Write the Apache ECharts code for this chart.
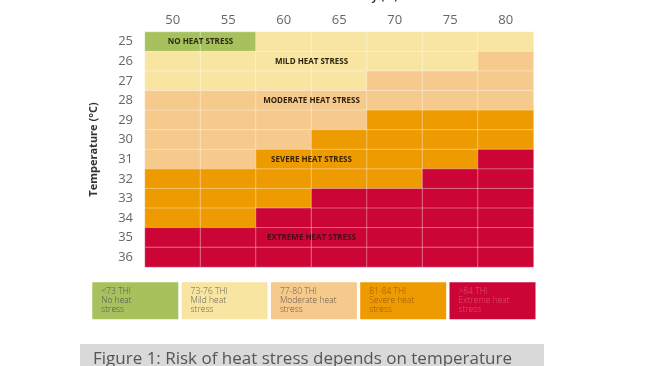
<!DOCTYPE html>
<html>
<head>
<meta charset="utf-8">
<script src="https://cdn.jsdelivr.net/npm/echarts@6/dist/echarts.min.js"></script>
<style>
html,body{margin:0;padding:0;background:#fff;}
#chart{width:650px;height:366px;}
</style>
</head>
<body>
<div id="chart"></div>
<script>
// Categories
const humidity = ['50','55','60','65','70','75','80'];
const temperatures = ['25','26','27','28','29','30','31','32','33','34','35','36'];
// Stress level per temperature row (0 none, 1 mild, 2 moderate, 3 severe, 4 extreme)
const stressLevels = [
  [0,0,1,1,1,1,1], // 25
  [1,1,1,1,1,1,2], // 26
  [1,1,1,1,2,2,2], // 27
  [2,2,2,2,2,2,2], // 28
  [2,2,2,2,3,3,3], // 29
  [2,2,2,3,3,3,3], // 30
  [2,2,3,3,3,3,4], // 31
  [3,3,3,3,3,4,4], // 32
  [3,3,3,4,4,4,4], // 33
  [3,3,4,4,4,4,4], // 34
  [4,4,4,4,4,4,4], // 35
  [4,4,4,4,4,4,4]  // 36
];
const levelColors = ['#a7c25d','#f8e5a2','#f6ca8c','#ee9b02','#cb0535'];
// Zone labels inside the chart
const zoneNames = ['NO HEAT STRESS','MILD HEAT STRESS','MODERATE HEAT STRESS','SEVERE HEAT STRESS','EXTREME HEAT STRESS'];
const zoneFrom  = ['50','60','60','60','60'];
const zoneTo    = ['55','65','65','65','65'];
const zoneTemp  = ['25','26','28','31','35'];
const zoneTextColors = ['#2b2a14','#2b2410','#2e2010','#3a2400','#4a0a1c'];
// Legend
const legendRanges = ['<73 THI','73-76 THI','77-80 THI','81-84 THI','>84 THI'];
const legendNames = ['No heat\nstress','Mild heat\nstress','Moderate heat\nstress','Severe heat\nstress','Extreme heat\nstress'];
const legendTextColors = ['#555555','#666655','#6a5a48','#9a5a00','#e2506e'];
const captionText = 'Figure 1: Risk of heat stress depends on temperature';

const heatData = [];
stressLevels.forEach((row, yi) => row.forEach((lv, xi) => heatData.push([xi, yi, lv])));

const FONT = '"Open Sans", "Noto Sans", sans-serif';

const graphics = [];
const boxLeft = 92.3, boxW = 86, boxGap = 3.3, boxTop = 282.3, boxH = 37;
legendRanges.forEach((r, i) => {
  const x = boxLeft + i * (boxW + boxGap);
  graphics.push({type:'rect', shape:{x:x, y:boxTop, width:boxW, height:boxH}, style:{fill: levelColors[i]}});
  graphics.push({type:'text', x: x + 9, y: boxTop + 4.5, style:{text: r + '\n' + legendNames[i], fill: legendTextColors[i], font: '300 8.5px ' + FONT, lineHeight: 9, textVerticalAlign:'top'}});
});
graphics.push({type:'rect', shape:{x:80, y:344, width:464, height:30}, style:{fill:'#d9d9d9'}});
graphics.push({type:'text', x:93, y:351, style:{text: captionText, fill:'#555', font:'17px ' + FONT, textVerticalAlign:'top'}});

const chart = echarts.init(document.getElementById('chart'), null, {renderer:'canvas'});
chart.setOption({
  animation: false,
  backgroundColor: '#fff',
  grid: {left:145, right:116.5, top:32, bottom:99, outerBoundsMode:'none', containLabel:false},
  xAxis: {
    type:'category', data: humidity, position:'top',
    name:'Relative humidity (%)', nameLocation:'middle', nameGap:30,
    nameTextStyle:{fontFamily:FONT, fontWeight:'bold', fontSize:11, color:'#333'},
    axisLine:{show:false}, axisTick:{show:false}, splitLine:{show:false},
    axisLabel:{fontFamily:FONT, fontSize:13, color:'#666', margin:5}
  },
  yAxis: {
    type:'category', data: temperatures, inverse:true,
    name:'Temperature (°C)', nameLocation:'middle', nameGap:46, nameRotate:90,
    nameTextStyle:{fontFamily:FONT, fontWeight:'bold', fontSize:11, color:'#333'},
    axisLine:{show:false}, axisTick:{show:false}, splitLine:{show:false},
    axisLabel:{fontFamily:FONT, fontSize:13, color:'#666', margin:12}
  },
  visualMap: {
    show:false, type:'piecewise', dimension:2, seriesIndex:0,
    pieces: levelColors.map((c, i) => ({value:i, color:c}))
  },
  series: [
    {
      type:'heatmap', data: heatData,
      itemStyle:{borderColor:'rgba(255,255,255,0.35)', borderWidth:1},
      emphasis:{disabled:true}
    },
    {
      type:'custom',
      data: zoneNames.map((n, i) => [humidity.indexOf(zoneFrom[i]), humidity.indexOf(zoneTo[i]), temperatures.indexOf(zoneTemp[i])]),
      renderItem: function(params, api){
        const a = api.coord([api.value(0), api.value(2)]);
        const b = api.coord([api.value(1), api.value(2)]);
        const i = params.dataIndex;
        return {
          type:'text', x:(a[0]+b[0])/2, y:a[1],
          style:{text: zoneNames[i], fill: zoneTextColors[i], font:'bold 8px ' + FONT, align:'center', verticalAlign:'middle'}
        };
      },
      z: 5
    }
  ],
  graphic: graphics
});
</script>
</body>
</html>
